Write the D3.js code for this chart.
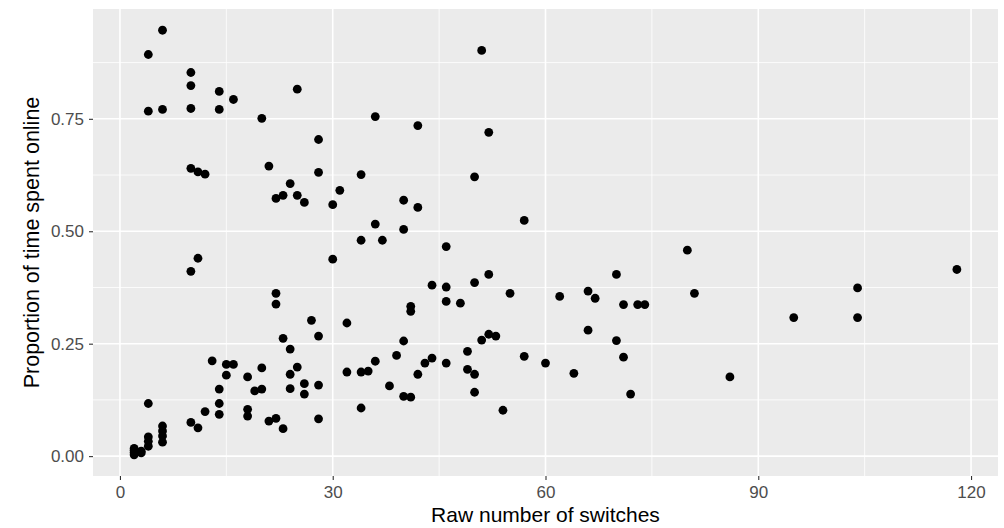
<!DOCTYPE html>
<html>
<head>
<meta charset="utf-8">
<script src="https://cdn.jsdelivr.net/npm/d3@7"></script>
<style>
  html, body { margin: 0; padding: 0; background: #fff; }
  svg { display: block; font-family: "Liberation Sans", Arial, sans-serif; }
</style>
</head>
<body>
<svg id="chart" width="1004" height="528"></svg>
<script>
// Number of switches per participant
const switches = [
  6, 4, 10, 10, 14, 16, 4, 6, 10, 14, 25, 20, 28, 10, 11, 12, 21, 24, 22, 23,
  25, 26, 28, 11, 10, 22, 22, 27, 28, 23, 24, 13, 15, 16, 15, 18, 20, 25, 24, 14,
  19, 20, 24, 26, 26, 28, 4, 14, 12, 14, 18, 18, 10, 11, 21, 22, 23, 28, 6, 6,
  6, 6, 4, 4, 4, 3, 3, 2, 2, 2, 2,
  51, 36, 42, 52, 34, 50, 31, 30, 40, 42, 57, 36, 40, 34, 37, 46, 30, 52, 50, 44,
  46, 46, 48, 55, 41, 41, 32, 40, 52, 53, 51, 49, 57, 60, 39, 36, 44, 43, 46, 32,
  34, 35, 42, 49, 50, 38, 40, 41, 50, 34, 54,
  80, 118, 70, 62, 66, 67, 71, 73, 74, 81, 104, 95, 104, 66, 70, 71, 64, 86, 72
];

// Proportion of time spent online, same order as switches
const propOnline = [
  0.947, 0.893, 0.853, 0.824, 0.811, 0.793, 0.767, 0.771, 0.773, 0.771, 0.816, 0.751, 0.704, 0.640, 0.632, 0.627, 0.645, 0.606, 0.573, 0.580,
  0.580, 0.564, 0.631, 0.440, 0.411, 0.362, 0.338, 0.302, 0.267, 0.262, 0.238, 0.212, 0.204, 0.204, 0.180, 0.176, 0.196, 0.198, 0.182, 0.149,
  0.145, 0.149, 0.150, 0.161, 0.138, 0.158, 0.117, 0.117, 0.099, 0.093, 0.104, 0.089, 0.075, 0.063, 0.078, 0.084, 0.061, 0.083, 0.067, 0.056,
  0.045, 0.031, 0.043, 0.033, 0.022, 0.011, 0.007, 0.017, 0.013, 0.008, 0.003,
  0.902, 0.755, 0.735, 0.720, 0.626, 0.621, 0.591, 0.559, 0.569, 0.553, 0.524, 0.516, 0.504, 0.480, 0.480, 0.466, 0.438, 0.404, 0.386, 0.380,
  0.376, 0.344, 0.340, 0.362, 0.333, 0.322, 0.296, 0.256, 0.271, 0.267, 0.258, 0.233, 0.222, 0.207, 0.224, 0.211, 0.218, 0.207, 0.207, 0.187,
  0.187, 0.189, 0.182, 0.193, 0.182, 0.156, 0.133, 0.131, 0.142, 0.107, 0.102,
  0.458, 0.415, 0.404, 0.355, 0.367, 0.351, 0.337, 0.337, 0.337, 0.362, 0.374, 0.308, 0.308, 0.280, 0.257, 0.220, 0.184, 0.176, 0.138
];

const xTicks = [0, 30, 60, 90, 120];
const xMinor = [15, 45, 75, 105];
const yTicks = [0, 0.25, 0.5, 0.75];
const yMinor = [0.125, 0.375, 0.625, 0.875];
const xTitle = "Raw number of switches";
const yTitle = "Proportion of time spent online";

const points = switches.map((s, i) => ({ x: s, y: propOnline[i] }));

const svg = d3.select("#chart");
const panel = { left: 93, right: 998, top: 9, bottom: 476 };

// ggplot-style 5% expansion around the data range
function expanded(ext) {
  const pad = (ext[1] - ext[0]) * 0.05;
  return [ext[0] - pad, ext[1] + pad];
}

const x = d3.scaleLinear()
  .domain(expanded(d3.extent(switches)))
  .range([panel.left, panel.right]);
const y = d3.scaleLinear()
  .domain(expanded(d3.extent(propOnline)))
  .range([panel.bottom, panel.top]);

// Panel background
svg.append("rect")
  .attr("x", panel.left).attr("y", panel.top)
  .attr("width", panel.right - panel.left)
  .attr("height", panel.bottom - panel.top)
  .attr("fill", "#EBEBEB");

const grid = svg.append("g");
// Minor grid
grid.selectAll(".xminor").data(xMinor).join("line")
  .attr("x1", d => x(d)).attr("x2", d => x(d))
  .attr("y1", panel.top).attr("y2", panel.bottom)
  .attr("stroke", "#fff").attr("stroke-width", 0.8);
grid.selectAll(".yminor").data(yMinor).join("line")
  .attr("y1", d => y(d)).attr("y2", d => y(d))
  .attr("x1", panel.left).attr("x2", panel.right)
  .attr("stroke", "#fff").attr("stroke-width", 0.8);
// Major grid
grid.selectAll(".xmajor").data(xTicks).join("line")
  .attr("x1", d => x(d)).attr("x2", d => x(d))
  .attr("y1", panel.top).attr("y2", panel.bottom)
  .attr("stroke", "#fff").attr("stroke-width", 1.6);
grid.selectAll(".ymajor").data(yTicks).join("line")
  .attr("y1", d => y(d)).attr("y2", d => y(d))
  .attr("x1", panel.left).attr("x2", panel.right)
  .attr("stroke", "#fff").attr("stroke-width", 1.6);

// Points
svg.append("g").selectAll("circle").data(points).join("circle")
  .attr("cx", d => x(d.x))
  .attr("cy", d => y(d.y))
  .attr("r", 4.4)
  .attr("fill", "#000");

// Axes
const xAxis = d3.axisBottom(x).tickValues(xTicks).tickFormat(d3.format("d"))
  .tickSize(4).tickPadding(6);
const yAxis = d3.axisLeft(y).tickValues(yTicks).tickFormat(d3.format(".2f"))
  .tickSize(4).tickPadding(5);

const gx = svg.append("g").attr("transform", `translate(0,${panel.bottom})`).call(xAxis);
const gy = svg.append("g").attr("transform", `translate(${panel.left},0)`).call(yAxis);

[gx, gy].forEach(g => {
  g.select(".domain").remove();
  g.selectAll(".tick line").attr("stroke", "#333333").attr("stroke-width", 1.1);
  g.selectAll(".tick text")
    .attr("fill", "#4D4D4D")
    .style("font-size", "17px")
    .style("font-family", "'Liberation Sans', Arial, sans-serif");
});

// Axis titles
svg.append("text")
  .attr("x", (panel.left + panel.right) / 2)
  .attr("y", 522)
  .attr("text-anchor", "middle")
  .style("font-size", "21px")
  .attr("fill", "#000")
  .text(xTitle);

svg.append("text")
  .attr("transform", `translate(38.5,${(panel.top + panel.bottom) / 2}) rotate(-90)`)
  .attr("text-anchor", "middle")
  .style("font-size", "21.5px")
  .attr("fill", "#000")
  .text(yTitle);
</script>
</body>
</html>
